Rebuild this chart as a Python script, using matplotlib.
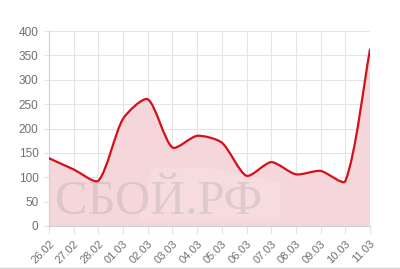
#Daily outage reports chart (sboy.rf style), smoothed line with light fill
import numpy as np
import matplotlib.pyplot as plt
from matplotlib.path import Path
from matplotlib.patches import PathPatch, Polygon

plt.rcParams['font.family'] = ['Liberation Sans', 'DejaVu Sans']

#data
dates = ["26.02", "27.02", "28.02", "01.03", "02.03", "03.03", "04.03",
         "05.03", "06.03", "07.03", "08.03", "09.03", "10.03", "11.03"]
reports = [139, 116, 93, 220, 260, 161, 185, 171, 103, 131, 106, 113, 92, 362]
yticks = [0, 50, 100, 150, 200, 250, 300, 350, 400]

LINE = "#d4101a"
FILL = "#f5d6da"
GRID = "#e4e4e4"
TXT = "#707070"


#chart.js style bezier control points, computed in pixel-ish space
def splinePath(xs, ys, sx, sy, t=0.4):
    px = np.asarray(xs, float) * sx
    py = np.asarray(ys, float) * sy
    n = len(px)
    verts = [(px[0], py[0])]
    codes = [Path.MOVETO]
    cp_next = []
    cp_prev = []
    for i in range(n):
        a = max(i - 1, 0)
        b = min(i + 1, n - 1)
        d01 = np.hypot(px[i] - px[a], py[i] - py[a])
        d12 = np.hypot(px[b] - px[i], py[b] - py[i])
        tot = d01 + d12
        s01 = d01 / tot if tot else 0
        s12 = d12 / tot if tot else 0
        dx = px[b] - px[a]
        dy = py[b] - py[a]
        cp_prev.append((px[i] - t * s01 * dx, py[i] - t * s01 * dy))
        cp_next.append((px[i] + t * s12 * dx, py[i] + t * s12 * dy))
    for i in range(1, n):
        verts += [cp_next[i - 1], cp_prev[i], (px[i], py[i])]
        codes += [Path.CURVE4] * 3
    verts = [(vx / sx, min(max(vy / sy, 0), 400)) for vx, vy in verts]
    return verts, codes


fig = plt.figure(figsize=(4, 2.69), dpi=100)
ax = fig.add_axes([49 / 400, 1 - 226 / 269, 321 / 400, 195 / 269])

x = np.arange(len(dates))
ax.set_xlim(0, len(dates) - 1)
ax.set_ylim(0, 400)

verts, codes = splinePath(x, reports, 24.7, 0.4875, t=0.25)

#fill under the curve
fverts = verts + [(x[-1], 0), (x[0], 0), verts[0]]
fcodes = codes + [Path.LINETO, Path.LINETO, Path.CLOSEPOLY]
ax.add_patch(PathPatch(Path(fverts, fcodes), facecolor=FILL, edgecolor="none", zorder=1))

#watermark
ax.add_patch(Polygon([(0.28, 0.03), (0.72, 0.03), (0.72, 0.22), (0.5, 0.3), (0.32, 0.3)],
                     closed=True, transform=ax.transAxes, facecolor="white",
                     alpha=0.15, edgecolor="none", zorder=1.5))
ax.text(0.02, 0.06, "СБОЙ.РФ", transform=ax.transAxes, fontsize=35,
        family="Liberation Serif", color="#8a8a8a", alpha=0.22,
        ha="left", va="baseline", zorder=1.6)

ax.add_patch(PathPatch(Path(verts, codes), facecolor="none", edgecolor=LINE,
                       lw=1.6, zorder=3, capstyle="round", joinstyle="round"))

ax.set_xticks(x)
ax.set_xticklabels(dates, rotation=45, ha="right", va="top", rotation_mode="anchor")
ax.set_yticks(yticks)
ax.grid(True, color=GRID, lw=0.8, zorder=0)
ax.set_axisbelow(True)
ax.tick_params(axis="both", colors=GRID, labelcolor=TXT, width=0.8)
ax.tick_params(axis="y", length=3.6, pad=4, labelsize=8.5)
ax.tick_params(axis="x", length=6, pad=3, labelsize=8)
for s in ["top", "right"]:
    ax.spines[s].set_visible(False)
ax.spines["left"].set_color("#d0d0d0")
ax.spines["bottom"].set_color("#d0d0d0")
ax.spines["left"].set_linewidth(0.8)
ax.spines["bottom"].set_linewidth(0.8)

#thin border line along the bottom of the image
fig.add_artist(plt.Line2D([0, 1], [0.004, 0.004], color="#cfcfcf", lw=1))

fig.savefig("out.png", dpi=100)
